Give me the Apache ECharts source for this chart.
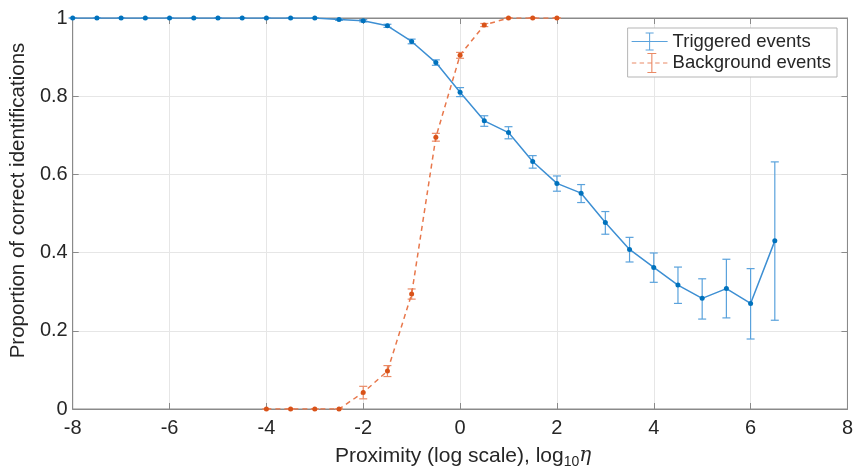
<!DOCTYPE html>
<html><head><meta charset="utf-8">
<script src="https://cdn.jsdelivr.net/npm/echarts@6/dist/echarts.min.js"></script>
<style>html,body{margin:0;padding:0;background:#fff}#c{width:856px;height:474px}</style>
</head><body><div id="c"></div>
<script>
const xTrig = [-8,-7.5,-7,-6.5,-6,-5.5,-5,-4.5,-4,-3.5,-3,-2.5,-2,-1.5,-1,-0.5,0,0.5,1,1.5,2,2.5,3,3.5,4,4.5,5,5.5,6,6.5];
const yTrig = [1,1,1,1,1,1,1,1,1,1,1,0.996,0.993,0.98,0.94,0.886,0.81,0.737,0.707,0.633,0.577,0.552,0.477,0.408,0.362,0.317,0.283,0.308,0.27,0.43];
const loTrig = [1,1,1,1,1,1,1,1,1,1,1,0.994,0.990,0.976,0.934,0.879,0.799,0.723,0.691,0.616,0.557,0.528,0.447,0.376,0.324,0.27,0.23,0.233,0.179,0.227];
const hiTrig = [1,1,1,1,1,1,1,1,1,1,1,0.998,0.996,0.984,0.946,0.893,0.822,0.75,0.722,0.648,0.596,0.574,0.505,0.439,0.399,0.363,0.333,0.383,0.359,0.632];
const xBack = [-4,-3.5,-3,-2.5,-2,-1.5,-1,-0.5,0,0.5,1,1.5,2];
const yBack = [0,0,0,0,0.042,0.097,0.294,0.695,0.905,0.982,1,1,1];
const loBack = [0,0,0,0,0.026,0.083,0.281,0.685,0.897,0.978,1,1,1];
const hiBack = [0,0,0,0,0.058,0.111,0.307,0.705,0.912,0.986,1,1,1];
const xTicks = [-8,-6,-4,-2,0,2,4,6,8];
const yTicks = [0,0.2,0.4,0.6,0.8,1];

const C1 = '#0072BD', C1L = '#3d8fd3', C1E = '#5aa2dc';
const C2 = '#D95319', C2L = '#e8784c', C2E = '#ea8a66';

function zip(xs, ys){ return xs.map((x,i)=>[x, ys[i]]); }
function errData(xs, lo, hi){ return xs.map((x,i)=>[x, lo[i], hi[i]]); }
function errSeries(name, data, color){
  return {
    type:'custom', name:name, data:data, z:3, silent:true,
    renderItem:function(params, api){
      const x = api.value(0), lo = api.value(1), hi = api.value(2);
      const p1 = api.coord([x, lo]), p2 = api.coord([x, hi]);
      const w = 4;
      const st = {stroke: color, lineWidth: 1.2, fill: null};
      return {type:'group', children:[
        {type:'line', shape:{x1:p1[0],y1:p1[1],x2:p2[0],y2:p2[1]}, style:st},
        {type:'line', shape:{x1:p1[0]-w,y1:p1[1],x2:p1[0]+w,y2:p1[1]}, style:st},
        {type:'line', shape:{x1:p2[0]-w,y1:p2[1],x2:p2[0]+w,y2:p2[1]}, style:st}
      ]};
    },
    encode:{x:0, y:[1,2]}
  };
}
const iconSolid = 'path://M0 9.5h36v1h-36z M17.5 1h1v18h-1z M14 1h8v1h-8z M14 18h8v1h-8z';
const iconDash = 'path://M0 9.5h4v1h-4z M7 9.5h4v1h-4z M14 9.5h4v1h-4z M21 9.5h4v1h-4z M28 9.5h4v1h-4z M17.5 1h1v18h-1z M14 1h8v1h-8z M14 18h8v1h-8z';

const chart = echarts.init(document.getElementById('c'));
const font = '"Liberation Sans", Arial, sans-serif';
const TXT = '#262626', AX = '#8a8a8a';
chart.setOption({
  animation:false,
  textStyle:{fontFamily:font},
  grid:{left:70, right:7, top:18, bottom:62, show:true, borderColor:AX, borderWidth:1, backgroundColor:'transparent'},
  legend:{
    orient:'vertical', right:19, top:28, itemWidth:36, itemHeight:20, itemGap:2,
    padding:[4,6,4,4], backgroundColor:'#fff', borderColor:'#b5b5b5', borderWidth:1,
    textStyle:{fontSize:18.5, color:TXT, fontFamily:font},
    data:[{name:'Triggered events', icon:iconSolid, itemStyle:{color:C1E}}, {name:'Background events', icon:iconDash, itemStyle:{color:C2E}}]
  },
  xAxis:[{
    type:'value', min:-8, max:8, interval:2,
    name:'{a|Proximity (log scale), log}{s|10}{e|η}', nameLocation:'middle', nameGap:34,
    nameTextStyle:{padding:[0,0,0,6], rich:{
      a:{fontSize:21, color:TXT, fontFamily:font},
      s:{fontSize:14, color:TXT, fontFamily:font, padding:[12,0,0,0]},
      e:{fontSize:20, color:TXT, fontStyle:'italic', fontFamily:'"DejaVu Serif", serif'}
    }},
    axisLine:{show:true, onZero:false, lineStyle:{color:AX}},
    axisTick:{show:true, inside:true, length:6, lineStyle:{color:AX}},
    axisLabel:{fontSize:20, color:TXT, margin:9},
    splitLine:{show:true, lineStyle:{color:'#e6e6e6'}}
  },{
    type:'value', position:'top', min:-8, max:8, interval:2,
    axisLine:{show:true, onZero:false, lineStyle:{color:AX}},
    axisTick:{show:true, inside:true, length:6, lineStyle:{color:AX}},
    axisLabel:{show:false}, splitLine:{show:false}
  }],
  yAxis:[{
    type:'value', min:0, max:1, interval:0.2,
    name:'Proportion of correct identifications', nameLocation:'middle', nameGap:38,
    nameTextStyle:{fontSize:20.5, color:TXT, padding:[0,0,0,26]},
    axisLine:{show:true, onZero:false, lineStyle:{color:AX}},
    axisTick:{show:true, inside:true, length:6, lineStyle:{color:AX}},
    axisLabel:{fontSize:20, color:TXT, margin:5, formatter:function(v){return (v===0||v===1)?String(v):v.toFixed(1);}},
    splitLine:{show:true, lineStyle:{color:'#e6e6e6'}}
  },{
    type:'value', position:'right', min:0, max:1, interval:0.2,
    axisLine:{show:true, onZero:false, lineStyle:{color:AX}},
    axisTick:{show:true, inside:true, length:6, lineStyle:{color:AX}},
    axisLabel:{show:false}, splitLine:{show:false}
  }],
  series:[
    {type:'line', name:'Triggered events', data:zip(xTrig,yTrig), symbol:'circle', symbolSize:5,
     itemStyle:{color:C1}, lineStyle:{color:C1L, width:1.5}, z:4},
    {type:'line', name:'Background events', data:zip(xBack,yBack), symbol:'circle', symbolSize:5,
     itemStyle:{color:C2}, lineStyle:{color:C2L, width:1.5, type:[5,4]}, z:4},
    errSeries('errT', errData(xTrig,loTrig,hiTrig), C1E),
    errSeries('errB', errData(xBack,loBack,hiBack), C2E)
  ]
});
</script></body></html>
